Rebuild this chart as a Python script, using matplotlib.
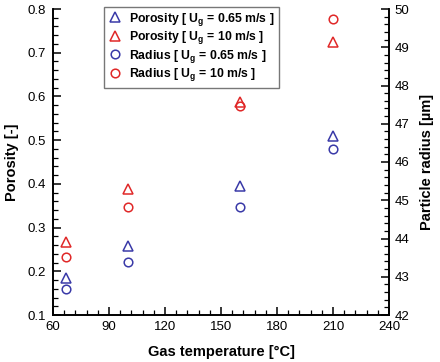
import numpy as np
import matplotlib
matplotlib.use("Agg")
import matplotlib.pyplot as plt
from matplotlib.ticker import MultipleLocator

matplotlib.rc('font', family='Liberation Sans', size=9.5)
matplotlib.rcParams['mathtext.fontset'] = 'custom'
matplotlib.rcParams['mathtext.rm'] = 'Liberation Sans:bold'
matplotlib.rcParams['mathtext.bf'] = 'Liberation Sans:bold'

temp = [67, 100, 160, 210]
por_065 = [0.185, 0.258, 0.395, 0.51]
por_10 = [0.267, 0.388, 0.587, 0.725]
rad_065 = [42.69, 43.39, 44.82, 46.34]
rad_10 = [43.52, 44.83, 47.46, 49.75]

blue = '#3a3aa8'
red = '#e02828'

fig = plt.figure(figsize=(4.4, 3.62), dpi=100)
ax = fig.add_axes([53/440, 47/362, 336/440, 306/362])
ax2 = ax.twinx()

mk = dict(mfc='none', mew=1.1, ls='none')
h1, = ax.plot(temp, por_065, '^', ms=7, mec=blue, label=r'Porosity [ U$_\mathrm{g}$ = 0.65 m/s ]', **mk)
h2, = ax.plot(temp, por_10, '^', ms=7, mec=red, label=r'Porosity [ U$_\mathrm{g}$ = 10 m/s ]', **mk)
h3, = ax2.plot(temp, rad_065, 'o', ms=6.2, mec=blue, label=r'Radius [ U$_\mathrm{g}$ = 0.65 m/s ]', **mk)
h4, = ax2.plot(temp, rad_10, 'o', ms=6.2, mec=red, label=r'Radius [ U$_\mathrm{g}$ = 10 m/s ]', **mk)

ax.set_xlim(60, 240)
ax.set_ylim(0.1, 0.8)
ax2.set_ylim(42, 50)
ax.xaxis.set_major_locator(MultipleLocator(30))
ax.xaxis.set_minor_locator(MultipleLocator(6))
ax.yaxis.set_major_locator(MultipleLocator(0.1))
ax.yaxis.set_minor_locator(MultipleLocator(0.02))
ax2.yaxis.set_major_locator(MultipleLocator(1))
ax2.yaxis.set_minor_locator(MultipleLocator(0.2))

for a in (ax, ax2):
    a.spines['top'].set_visible(False)
    for s in a.spines.values():
        s.set_linewidth(1.2)
    a.tick_params(which='major', direction='in', length=5.5, width=1.1, labelsize=9.5)
    a.tick_params(which='minor', direction='in', length=3.5, width=0.9)
ax.tick_params(axis='y', pad=5)
ax2.tick_params(axis='y', pad=4)
ax.tick_params(axis='x', pad=4)

ax.set_xlabel('Gas temperature [°C]', fontweight='bold', fontsize=10.5, labelpad=9)
ax.set_ylabel('Porosity [-]', fontweight='bold', fontsize=10.5, labelpad=6)
ax2.set_ylabel('Particle radius [µm]', fontweight='bold', fontsize=10.5, labelpad=8)

leg = ax.legend(handles=[h1, h2, h3, h4], loc='upper left', bbox_to_anchor=(0.14, 1.02),
                frameon=True, fancybox=False, edgecolor='#555555',
                prop={'weight': 'bold', 'size': 8.8}, handlelength=1.2, handletextpad=0.5,
                labelspacing=0.12, borderpad=0.35, borderaxespad=0.3)
leg.get_frame().set_linewidth(1.0)

plt.savefig("out.png", dpi=100)
